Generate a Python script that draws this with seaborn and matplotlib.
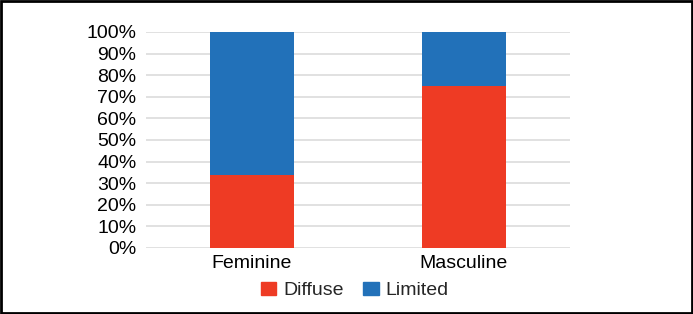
import matplotlib
matplotlib.use("Agg")
import matplotlib.pyplot as plt
import seaborn as sns
import pandas as pd
from matplotlib.patches import Rectangle

categories = ["Feminine", "Masculine"]
diffuse = [34, 75]
limited = [66, 25]
yticks = list(range(0, 101, 10))

red = "#ee3b24"
blue = "#2271b9"

sns.set_style("white")
plt.rcParams["font.family"] = ["Liberation Sans", "DejaVu Sans"]

df = pd.DataFrame({"cat": categories, "Diffuse": diffuse, "Limited": limited})
df["total"] = df["Diffuse"] + df["Limited"]

fig = plt.figure(figsize=(6.93, 3.14), dpi=100)
ax = fig.add_axes([0.2107, 0.2102, 0.6118, 0.688])

# stacked: draw total (blue) then diffuse (red) on top
sns.barplot(data=df, x="cat", y="total", color=blue, width=0.4, ax=ax,
            saturation=1, zorder=3, linewidth=0)
sns.barplot(data=df, x="cat", y="Diffuse", color=red, width=0.4, ax=ax,
            saturation=1, zorder=3, linewidth=0)

ax.set_xlim(-0.5, 1.5)
ax.set_ylim(0, 100)
ax.set_yticks(yticks)
ax.set_yticklabels([f"{t}%" for t in yticks])
ax.yaxis.grid(True, color="#dcdcdc", linewidth=1.2, zorder=0)
ax.set_axisbelow(True)
for s in ax.spines.values():
    s.set_visible(False)
ax.tick_params(axis="both", length=0, labelsize=14, colors="black", pad=5)
ax.tick_params(axis="y", pad=7)
ax.set_xlabel("")
ax.set_ylabel("")

handles = [Rectangle((0, 0), 1, 1, color=red), Rectangle((0, 0), 1, 1, color=blue)]
fig.legend(handles, ["Diffuse", "Limited"], loc="center", bbox_to_anchor=(0.512, 0.075),
           ncol=2, frameon=False, fontsize=14, handlelength=0.8, handleheight=0.65,
           handletextpad=0.35, columnspacing=1.0)

fig.patches.append(Rectangle((0.002, 0.003), 0.996, 0.994, transform=fig.transFigure,
                             fill=False, edgecolor="black", linewidth=2))

fig.savefig("out.png", dpi=100)
